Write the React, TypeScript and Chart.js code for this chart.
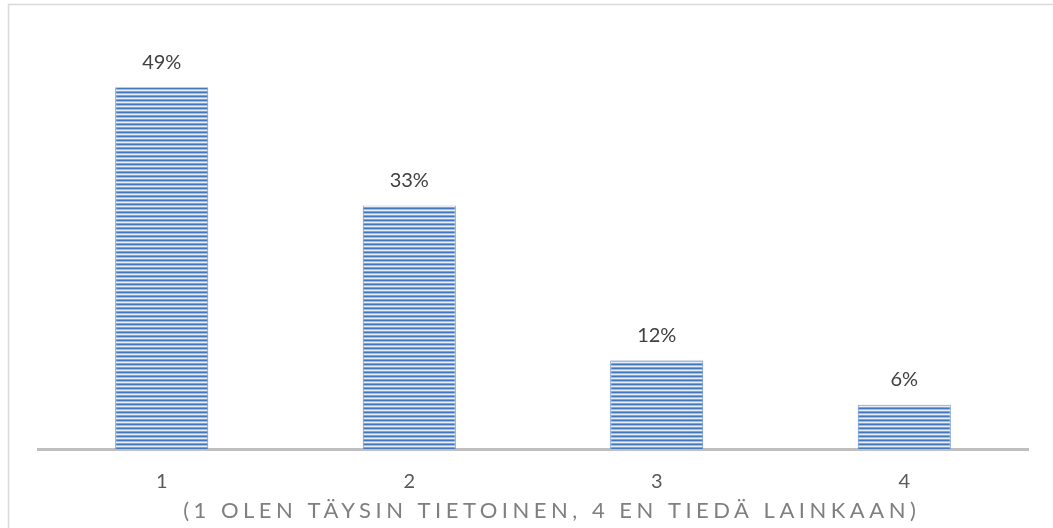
import React, { useEffect, useRef } from "react";
import { Chart, registerables } from "chart.js";

Chart.register(...registerables);

const categories = ["1", "2", "3", "4"];
const values = [49, 33, 12, 6];
const valueLabels = ["49%", "33%", "12%", "6%"];
const axisTitle = "(1 OLEN TÄYSIN TIETOINEN, 4 EN TIEDÄ LAINKAAN)";

const FONT = "Lato, 'Open Sans', sans-serif";

function makePattern(): CanvasPattern | string {
  const c = document.createElement("canvas");
  c.width = 4;
  c.height = 4;
  const g = c.getContext("2d");
  if (!g) return "#6f97d0";
  const rows = ["#4578bb", "#9ebce4", "#e6eef9", "#7ea3d8"];
  rows.forEach((col, i) => {
    g.fillStyle = col;
    g.fillRect(0, i, 4, 1);
  });
  const p = g.createPattern(c, "repeat");
  return p || "#6f97d0";
}

const framePlugin = {
  id: "frame",
  beforeDraw(chart: any) {
    const ctx = chart.ctx;
    ctx.save();
    ctx.strokeStyle = "#d9d9d9";
    ctx.lineWidth = 1.5;
    ctx.beginPath();
    ctx.moveTo(8.5, chart.height);
    ctx.lineTo(8.5, 4.5);
    ctx.lineTo(chart.width, 4.5);
    ctx.stroke();
    ctx.restore();
  },
};

const labelsPlugin = {
  id: "valueLabels",
  afterDatasetsDraw(chart: any) {
    const ctx = chart.ctx;
    const meta = chart.getDatasetMeta(0);
    ctx.save();
    ctx.font = `20px ${FONT}`;
    ctx.fillStyle = "#404040";
    ctx.textAlign = "center";
    ctx.textBaseline = "middle";
    meta.data.forEach((bar: any, i: number) => {
      ctx.fillText(valueLabels[i], bar.x, bar.y - 25);
    });
    ctx.restore();
  },
};

const titlePlugin = {
  id: "spacedTitle",
  afterDraw(chart: any) {
    const ctx = chart.ctx;
    const area = chart.chartArea;
    const spacing = 4.5;
    ctx.save();
    ctx.font = `22px ${FONT}`;
    (ctx as any).letterSpacing = `${spacing}px`;
    ctx.fillStyle = "#7f7f7f";
    ctx.textAlign = "left";
    ctx.textBaseline = "middle";
    const w = ctx.measureText(axisTitle).width - spacing;
    const center = (area.left + area.right) / 2 + 16.5;
    ctx.fillText(axisTitle, center - w / 2, 511);
    ctx.restore();
  },
};

export default function App() {
  const ref = useRef<HTMLCanvasElement>(null);

  useEffect(() => {
    if (!ref.current) return;
    const pattern = makePattern();
    const chart = new Chart(ref.current, {
      type: "bar",
      data: {
        labels: categories,
        datasets: [
          {
            data: values,
            backgroundColor: pattern as any,
            borderColor: "#5b88c4",
            borderWidth: { left: 1, right: 1, top: 0, bottom: 0 } as any,
            barPercentage: 0.376,
            categoryPercentage: 1,
          },
        ],
      },
      options: {
        responsive: false,
        animation: false,
        layout: { padding: { left: 38, right: 25, top: 43, bottom: 13 } },
        plugins: {
          legend: { display: false },
          tooltip: { enabled: false },
          title: { display: false },
        },
        scales: {
          x: {
            grid: { display: false, drawTicks: false },
            border: { display: true, color: "#bfbfbf", width: 3 },
            ticks: {
              color: "#595959",
              font: { family: FONT, size: 20 },
              padding: 21,
            },
          },
          y: {
            display: false,
            min: 0,
            max: 55,
          },
        },
      },
      plugins: [framePlugin, labelsPlugin, titlePlugin],
    });
    return () => chart.destroy();
  }, []);

  return (
    <div style={{ position: "fixed", left: 0, top: 0, width: 1053, height: 528, background: "#fff" }}>
      <canvas ref={ref} width={1053} height={528} style={{ display: "block" }} />
    </div>
  );
}
